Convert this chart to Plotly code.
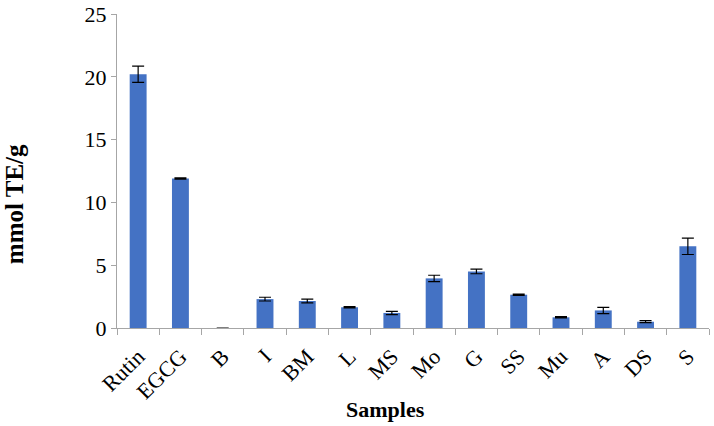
import plotly.graph_objects as go

samples = ["Rutin", "EGCG", "B", "I", "BM", "L", "MS", "Mo", "G", "SS", "Mu", "A", "DS", "S"]
values = [20.2, 11.9, 0.0, 2.3, 2.15, 1.65, 1.2, 3.95, 4.5, 2.65, 0.85, 1.4, 0.5, 6.5]
errors = [0.65, 0.05, None, 0.15, 0.15, 0.05, 0.13, 0.25, 0.18, 0.05, 0.05, 0.25, 0.08, 0.65]
y_ticks = [0, 5, 10, 15, 20, 25]

FONT = "Liberation Serif, Times New Roman, serif"

fig = go.Figure(go.Bar(
    x=samples, y=values,
    marker=dict(color="#4472C4", line=dict(width=0)),
    width=0.4,
    error_y=dict(type="data", array=errors, visible=True, color="black", thickness=1.2, width=6),
))

fig.update_layout(
    width=714, height=426,
    margin=dict(l=117, r=5, t=14, b=98),
    plot_bgcolor="white", paper_bgcolor="white",
    showlegend=False,
    font=dict(family=FONT, size=22, color="black"),
    xaxis=dict(
        type="category", range=[-0.5, 13.5], automargin=False,
        showline=True, linecolor="#a6a6a6", linewidth=1,
        ticks="outside", tickson="boundaries", ticklen=6, tickcolor="#a6a6a6",
        tickangle=-45, tickfont=dict(size=22, family=FONT), ticklabelstandoff=6,
        showgrid=False, zeroline=False,
    ),
    yaxis=dict(
        range=[0, 25], tickvals=y_ticks, automargin=False,
        showline=True, linecolor="#a6a6a6", linewidth=1,
        ticks="outside", ticklen=5, tickcolor="#a6a6a6",
        tickfont=dict(size=22, family=FONT),
        showgrid=False, zeroline=False,
    ),
    annotations=[
        dict(text="<b>mmol TE/g</b>", xref="paper", yref="paper", x=-0.172, y=0.395,
             xanchor="center", yanchor="middle", textangle=-90, showarrow=False,
             font=dict(size=25, family=FONT)),
        dict(text="<b>Samples</b>", xref="paper", yref="paper", x=0.453, y=-0.261,
             xanchor="center", yanchor="middle", showarrow=False,
             font=dict(size=22, family=FONT)),
    ],
)

fig.write_html("out.html", config={"displayModeBar": False},
               post_script="document.body.style.margin='0';")
